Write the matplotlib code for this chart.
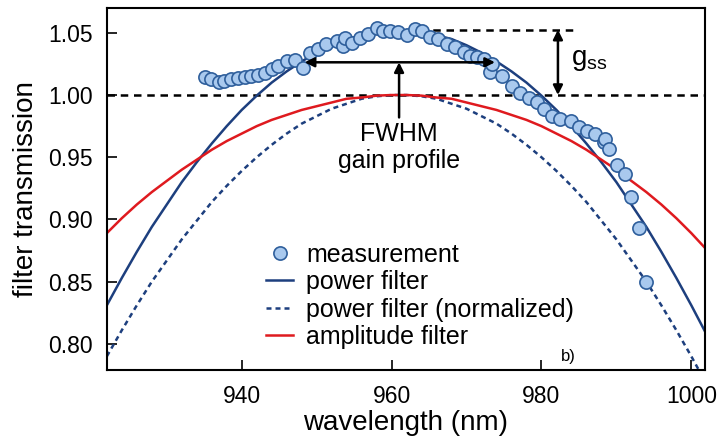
import matplotlib
matplotlib.use('Agg')
import matplotlib.pyplot as plt

plt.rcParams['font.family'] = ['Liberation Sans', 'DejaVu Sans']

meas_wl = [935.1, 935.9, 937.0, 937.7, 938.6, 939.5, 940.4, 941.3, 942.2, 943.1,
           944.0, 944.9, 946.0, 947.1, 948.2, 949.1, 950.2, 951.3, 952.7, 953.5,
           953.8, 954.7, 955.8, 956.9, 958.0, 958.9, 959.8, 960.9, 962.0, 963.1,
           964.0, 965.1, 966.2, 967.4, 968.5, 969.6, 970.5, 971.4, 972.3, 973.2,
           973.4, 974.7, 976.1, 977.2, 978.3, 979.4, 980.3, 981.4, 982.5, 983.9,
           985.0, 986.1, 987.2, 988.3, 988.5, 989.0, 990.1, 991.2, 992.0, 993.0,
           994.0]
meas_t = [1.0142, 1.0129, 1.0102, 1.0115, 1.0129, 1.0134, 1.0142, 1.0150, 1.0160, 1.0180,
          1.0210, 1.0236, 1.0270, 1.0284, 1.0215, 1.0340, 1.0370, 1.0410, 1.0436, 1.0396,
          1.0456, 1.0420, 1.0458, 1.0490, 1.0539, 1.0517, 1.0517, 1.0504, 1.0485, 1.0530,
          1.0517, 1.0464, 1.0450, 1.0410, 1.0383, 1.0343, 1.0316, 1.0303, 1.0290, 1.0182,
          1.0250, 1.0155, 1.0075, 1.0020, 0.9980, 0.9941, 0.9887, 0.9834, 0.9807, 0.9794,
          0.9740, 0.9713, 0.9687, 0.9620, 0.9646, 0.9566, 0.9437, 0.9365, 0.9178, 0.8928,
          0.8494]

# filter curves (read every 2 nm)
wl = [922, 924, 926, 928, 930, 932, 934, 936, 938, 940, 942, 944, 946, 948, 950,
      952, 954, 956, 958, 960, 962, 964, 966, 968, 970, 972, 974, 976, 978, 980,
      982, 984, 986, 988, 990, 992, 994, 996, 998, 1000, 1002]
power = [0.831, 0.853, 0.874, 0.894, 0.912, 0.930, 0.946, 0.961, 0.975, 0.988, 0.9995,
         1.010, 1.019, 1.027, 1.034, 1.040, 1.045, 1.048, 1.051, 1.052, 1.052, 1.051,
         1.048, 1.045, 1.040, 1.034, 1.027, 1.019, 1.010, 0.9995, 0.988, 0.975, 0.961,
         0.946, 0.930, 0.912, 0.894, 0.874, 0.853, 0.831, 0.808]
power_norm = [0.790, 0.811, 0.831, 0.850, 0.867, 0.884, 0.899, 0.914, 0.927, 0.939, 0.950,
              0.960, 0.969, 0.977, 0.983, 0.989, 0.993, 0.997, 0.999, 1.000, 1.000, 0.999,
              0.997, 0.993, 0.989, 0.983, 0.977, 0.969, 0.960, 0.950, 0.939, 0.927, 0.914,
              0.899, 0.884, 0.867, 0.850, 0.831, 0.811, 0.790, 0.768]
amplitude = [0.889, 0.901, 0.912, 0.922, 0.931, 0.940, 0.948, 0.956, 0.963, 0.969, 0.975,
             0.980, 0.984, 0.988, 0.991, 0.994, 0.997, 0.998, 0.9995, 1.000, 1.000, 0.9995,
             0.998, 0.997, 0.994, 0.991, 0.988, 0.984, 0.980, 0.975, 0.969, 0.963, 0.956,
             0.948, 0.940, 0.931, 0.922, 0.912, 0.901, 0.889, 0.876]

navy = '#1d3f7e'
red = '#df1a1f'

fig = plt.figure(figsize=(7.17, 4.40), dpi=100)
ax = fig.add_axes([0.149, 0.159, 0.834, 0.823])

ax.axhline(1.0, color='k', lw=1.8, ls=(0, (3, 2.3)), zorder=1)
ax.plot([960.2, 984.5], [1.052, 1.052], color='k', lw=1.8, ls=(0, (3, 2.3)), zorder=1)

ax.plot(wl, power, color=navy, lw=1.8, label='power filter', zorder=2)
ax.plot(wl, power_norm, color=navy, lw=1.8, ls=(0, (2, 1.6)),
        label='power filter (normalized)', zorder=2)
ax.plot(wl, amplitude, color=red, lw=1.8, label='amplitude filter', zorder=2)
ax.plot(meas_wl, meas_t, 'o', ms=9.5, mfc='#a9c9ee', mec='#2f5f9c', mew=1.2,
        label='measurement', zorder=3)

# annotations
ax.annotate('', xy=(948.4, 1.0263), xytext=(973.8, 1.0263),
            arrowprops=dict(arrowstyle='<|-|>', color='k', lw=1.8,
                            mutation_scale=14, shrinkA=0, shrinkB=0), zorder=4)
ax.annotate('', xy=(961, 1.0263), xytext=(961, 0.982),
            arrowprops=dict(arrowstyle='-|>', color='k', lw=1.8,
                            mutation_scale=14, shrinkA=0, shrinkB=0), zorder=4)
ax.annotate('', xy=(982.2, 1.0525), xytext=(982.2, 1.0),
            arrowprops=dict(arrowstyle='<|-|>', color='k', lw=1.8,
                            mutation_scale=14, shrinkA=0, shrinkB=0), zorder=4)
ax.text(961, 0.978, 'FWHM\ngain profile', ha='center', va='top', fontsize=18,
        linespacing=1.15)
ax.text(984.0, 1.028, r'$\mathregular{g_{ss}}$', ha='left', va='center', fontsize=20)
ax.text(982.6, 0.7835, 'b)', ha='left', va='bottom', fontsize=12)

handles, labels = ax.get_legend_handles_labels()
order = [3, 0, 1, 2]
ax.legend([handles[i] for i in order], [labels[i] for i in order],
          loc='upper left', bbox_to_anchor=(0.266, 0.352), frameon=False,
          fontsize=18, handlelength=1.1, handletextpad=0.5, labelspacing=0.14,
          borderpad=0, borderaxespad=0)

ax.set_xlim(922, 1001.8)
ax.set_ylim(0.779, 1.070)
ax.set_xticks([940, 960, 980, 1000])
ax.set_yticks([0.80, 0.85, 0.90, 0.95, 1.00, 1.05])
ax.set_yticklabels(['0.80', '0.85', '0.90', '0.95', '1.00', '1.05'])
ax.tick_params(direction='in', length=7, width=1.2, labelsize=16.5)
ax.tick_params(axis='x', pad=11)
ax.tick_params(axis='y', pad=10)
for s in ax.spines.values():
    s.set_linewidth(1.5)

ax.set_xlabel('wavelength (nm)', fontsize=20, labelpad=1)
ax.set_ylabel('filter transmission', fontsize=20, labelpad=7)

fig.savefig('out.png', dpi=100)
